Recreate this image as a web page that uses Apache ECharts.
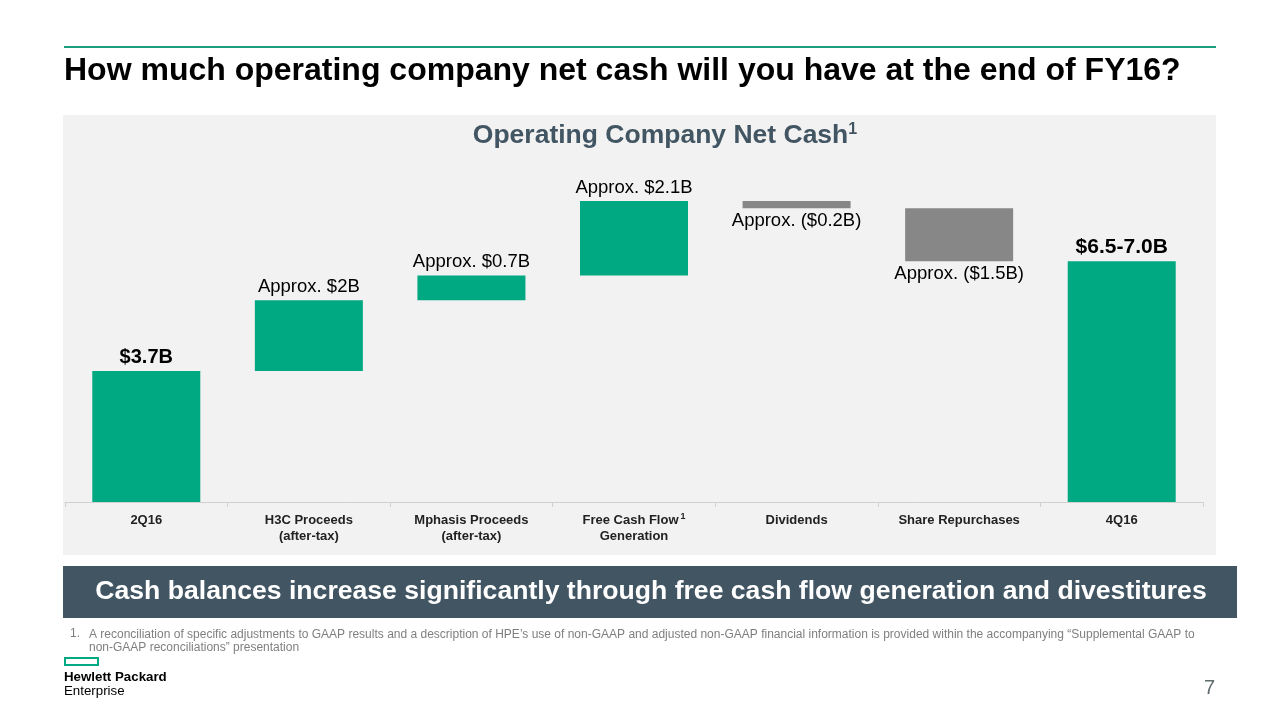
<!DOCTYPE html>
<html>
<head>
<meta charset="utf-8">
<script src="https://cdn.jsdelivr.net/npm/echarts@6/dist/echarts.min.js"></script>
<style>
html,body{margin:0;padding:0;background:#fff;}
#c{width:1280px;height:720px;}
</style>
</head>
<body>
<div id="c"></div>
<script>
const categories = ['2Q16', 'H3C Proceeds\n(after-tax)', 'Mphasis Proceeds\n(after-tax)', 'Free Cash Flow{s|1}\nGeneration', 'Dividends', 'Share Repurchases', '4Q16'];
const baseValues = [0, 3.7, 5.7, 6.4, 8.3, 6.8, 0];
const deltaValues = [3.7, 2.0, 0.7, 2.1, 0.2, 1.5, 6.8];
const direction = ['total', 'up', 'up', 'up', 'down', 'down', 'total'];
const valueLabels = ['$3.7B', 'Approx. $2B', 'Approx. $0.7B', 'Approx. $2.1B', 'Approx. ($0.2B)', 'Approx. ($1.5B)', '$6.5-7.0B'];

const GREEN = '#01a982';
const GRAY = '#878787';
const SLATE = '#425563';
const FONT = 'Arial, "Liberation Sans", sans-serif';

const chart = echarts.init(document.getElementById('c'), null, {renderer: 'canvas'});

const deltaData = deltaValues.map((v, i) => {
  const isDown = direction[i] === 'down';
  const isTotal = direction[i] === 'total';
  return {
    value: v,
    itemStyle: {color: isDown ? GRAY : GREEN},
    label: {
      show: true,
      position: isDown ? 'bottom' : 'top',
      distance: isDown ? 3 : 4,
      formatter: valueLabels[i],
      fontFamily: FONT,
      fontSize: isTotal ? (i === 0 ? 20 : 21) : 18.5,
      fontWeight: isTotal ? 'bold' : 'normal',
      color: '#000'
    }
  };
});

chart.setOption({
  animation: false,
  backgroundColor: '#ffffff',
  textStyle: {fontFamily: FONT},
  graphic: [
    {type: 'rect', z: -10, shape: {x: 63, y: 115, width: 1153, height: 440}, style: {fill: '#f2f2f2'}},
    {type: 'rect', shape: {x: 64, y: 46, width: 1152, height: 2}, style: {fill: '#1b9e7f'}},
    {type: 'text', left: 64, top: 55, style: {text: 'How much operating company net cash will you have at the end of FY16?', font: 'bold 32px ' + FONT, fill: '#000'}},
    {type: 'text', x: 665, y: 122, style: {
      text: '{t|Operating Company Net Cash}{s|1}',
      align: 'center',
      rich: {
        t: {font: 'bold 26.5px ' + FONT, fill: SLATE, verticalAlign: 'bottom'},
        s: {font: 'bold 16px ' + FONT, fill: SLATE, verticalAlign: 'top', padding: [0,0,11,0]}
      }
    }},
    {type: 'rect', shape: {x: 63, y: 566, width: 1174, height: 52}, style: {fill: SLATE}},
    {type: 'text', x: 651, y: 592, style: {text: 'Cash balances increase significantly through free cash flow generation and divestitures', font: 'bold 26.6px ' + FONT, fill: '#fff', align: 'center', verticalAlign: 'middle'}},
    {type: 'text', x: 70, y: 628, style: {text: '1.', font: '12px ' + FONT, fill: '#7f7f7f'}},
    {type: 'text', x: 89, y: 628, style: {text: 'A reconciliation of specific adjustments to GAAP results and a description of HPE\u2019s use of non-GAAP and adjusted non-GAAP financial information is provided within the accompanying \u201cSupplemental GAAP to\nnon-GAAP reconciliations\u201d presentation', font: '12px ' + FONT, fill: '#7f7f7f', lineHeight: 13}},
    {type: 'rect', shape: {x: 65, y: 658, width: 33, height: 7}, style: {fill: 'none', stroke: GREEN, lineWidth: 2}},
    {type: 'text', x: 64, y: 671, style: {text: 'Hewlett Packard', font: 'bold 13.3px ' + FONT, fill: '#000'}},
    {type: 'text', x: 64, y: 685, style: {text: 'Enterprise', font: '13.3px ' + FONT, fill: '#000'}},
    {type: 'text', x: 1204, y: 678, style: {text: '7', font: '20px ' + FONT, fill: '#5f6b6d'}}
  ],
  grid: {left: 65, right: 77, top: 148, bottom: 218},
  xAxis: {
    type: 'category',
    data: categories,
    axisLine: {lineStyle: {color: '#d0d0d0', width: 1}},
    axisTick: {show: true, length: 5, lineStyle: {color: '#d0d0d0'}},
    axisLabel: {
      interval: 0,
      margin: 10,
      color: '#222',
      fontFamily: FONT,
      fontSize: 13,
      fontWeight: 'bold',
      lineHeight: 16,
      rich: {s: {fontSize: 9, fontWeight: 'bold', color: '#222', verticalAlign: 'top', padding: [0, 0, 6, 2]}}
    }
  },
  yAxis: {type: 'value', min: 0, max: 10, show: false, splitLine: {show: false}},
  series: [
    {type: 'bar', stack: 'w', data: baseValues, itemStyle: {color: 'transparent'}, barWidth: 108, silent: true},
    {type: 'bar', stack: 'w', data: deltaData, barWidth: 108}
  ]
});
</script>
</body>
</html>
